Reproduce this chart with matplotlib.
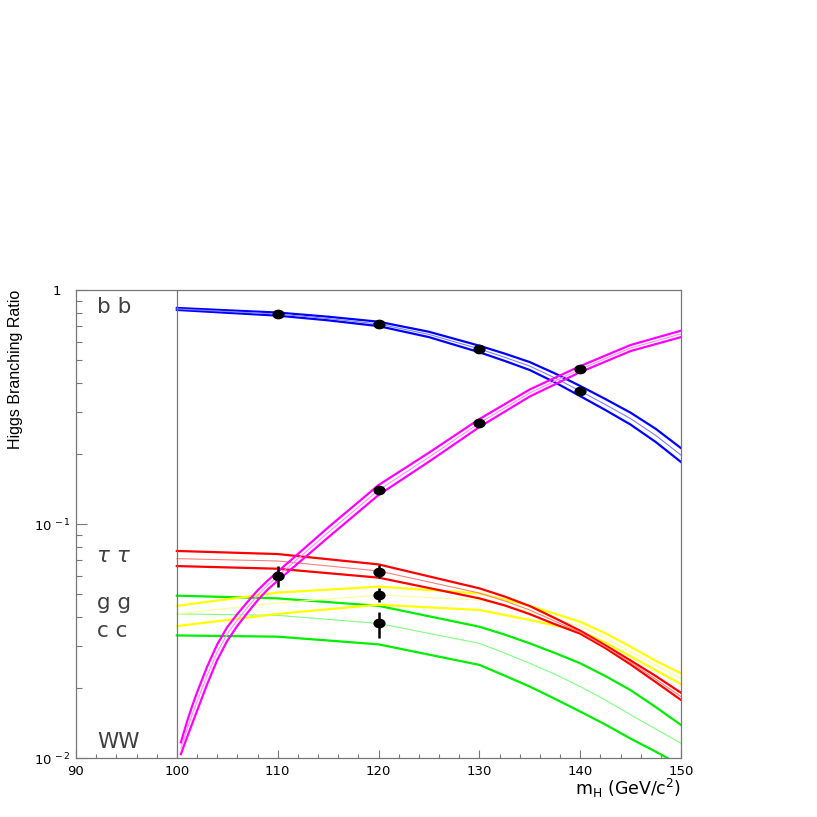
import matplotlib
matplotlib.use('Agg')
import matplotlib.pyplot as plt
from matplotlib.markers import MarkerStyle
from matplotlib.transforms import Affine2D
from matplotlib.ticker import FixedLocator, NullFormatter, MultipleLocator

plt.rcParams['mathtext.fontset'] = 'dejavusans'
plt.rcParams['font.family'] = ['DejaVu Sans']

# ---------------- data ----------------
mass_bb = [100, 105, 110, 115, 120, 125, 130, 132.5, 135, 137.5, 140, 142.5, 145, 147.5, 150]
bb_central = [0.830, 0.809, 0.789, 0.755, 0.716, 0.646, 0.560, 0.516, 0.473, 0.421, 0.370,
              0.324, 0.282, 0.239, 0.197]
bb_upper = [0.838, 0.819, 0.801, 0.769, 0.732, 0.663, 0.578, 0.535, 0.492, 0.440, 0.389,
            0.342, 0.299, 0.255, 0.211]
bb_lower = [0.822, 0.799, 0.777, 0.742, 0.701, 0.629, 0.542, 0.498, 0.455, 0.403, 0.352,
            0.307, 0.266, 0.224, 0.184]

mass_ww = [100.4, 101, 101.5, 102, 103, 104, 105, 106, 107, 108, 109, 110,
           115, 120, 125, 130, 135, 140, 145, 150]
ww_central = [0.0110, 0.0132, 0.0152, 0.0174, 0.0225, 0.0283, 0.0339, 0.0389, 0.0440, 0.0495,
              0.0548, 0.0598, 0.092, 0.1396, 0.193, 0.270, 0.363, 0.459, 0.565, 0.649]
ww_upper = [0.01166, 0.01426, 0.01657, 0.01905, 0.02453, 0.03056, 0.03627, 0.04123, 0.04642,
            0.05198, 0.05727, 0.06249, 0.0966, 0.1466, 0.2017, 0.2808, 0.3757, 0.4728,
            0.5820, 0.670]
ww_lower = [0.01038, 0.01222, 0.01394, 0.01589, 0.02064, 0.02620, 0.03168, 0.03670, 0.04171,
            0.04714, 0.05244, 0.05722, 0.0876, 0.1330, 0.1847, 0.2596, 0.3507, 0.4456,
            0.5485, 0.629]

mass_tau = [100, 110, 120, 130, 132.5, 135, 137.5, 140, 142.5, 145, 147.5, 150]
tau_central = [0.0711, 0.0695, 0.0630, 0.0507, 0.0469, 0.0429, 0.0384, 0.0345, 0.0299, 0.0256,
               0.0217, 0.0183]
tau_upper = [0.0767, 0.0744, 0.0672, 0.0531, 0.0490, 0.0446, 0.0396, 0.0350, 0.0303, 0.0261,
             0.0224, 0.0190]
tau_lower = [0.0661, 0.0644, 0.0590, 0.0481, 0.0449, 0.0412, 0.0373, 0.0340, 0.0295, 0.0251,
             0.0211, 0.0177]

mass_gg = [100, 110, 120, 130, 135, 140, 142.5, 145, 147.5, 150]
gg_central = [0.0413, 0.0460, 0.0497, 0.0473, 0.0422, 0.0366, 0.0325, 0.0285, 0.0249, 0.0219]
gg_upper = [0.0447, 0.0509, 0.0540, 0.0505, 0.0447, 0.0382, 0.0341, 0.0299, 0.0260, 0.0230]
gg_lower = [0.0366, 0.0413, 0.0452, 0.0429, 0.0389, 0.0349, 0.0311, 0.0272, 0.0237, 0.0207]

mass_cc = [100, 110, 120, 130, 132.5, 135, 137.5, 140, 142.5, 145, 147.5, 150]
cc_central = [0.0413, 0.0407, 0.0376, 0.0309, 0.0281, 0.0254, 0.0228, 0.0202, 0.0177, 0.0153,
              0.0133, 0.01156]
cc_upper = [0.0494, 0.0481, 0.0447, 0.0364, 0.0337, 0.0309, 0.0281, 0.0254, 0.0224, 0.0195,
            0.0165, 0.01384]
cc_lower = [0.0334, 0.0330, 0.0306, 0.0250, 0.0225, 0.0202, 0.0179, 0.0158, 0.0139, 0.0121,
            0.01064, 0.0093]

# measured points
bb_pts_mass = [110, 120, 130, 140]
bb_pts = [0.789, 0.716, 0.560, 0.370]
ww_pts_mass = [110, 120, 130, 140]
ww_pts = [0.0601, 0.1396, 0.270, 0.459]
ww_pts_lo = [0.0538, 0.1370, 0.266, 0.452]
ww_pts_hi = [0.0661, 0.1420, 0.274, 0.466]
low_pts_mass = [120, 120, 120]          # tau, gg, cc
low_pts = [0.0626, 0.0497, 0.0376]
low_pts_lo = [0.0586, 0.0466, 0.0325]
low_pts_hi = [0.0668, 0.0531, 0.0422]

channel_labels = ['b b', 'τ τ', 'g g', 'c c', 'WW']
label_y = [0.797, 0.0688, 0.0433, 0.0329, 0.01103]

x_ticks = [90, 100, 110, 120, 130, 140, 150]
y_ticks = [0.01, 0.1, 1]
y_ticklabels = [r'$10^{\,-2}$', r'$10^{\,-1}$', '1  ']

# ---------------- figure ----------------
fig = plt.figure(figsize=(8.17, 8.17), dpi=100)
ax = fig.add_axes([76 / 817, 1 - 758 / 817, 605 / 817, 468 / 817])
ax.set_xlim(90, 150)
ax.set_yscale('log')
ax.set_ylim(0.01, 1)

bands = [
    (mass_cc, cc_central, cc_upper, cc_lower, '#00ee00', '#80ff80'),
    (mass_gg, gg_central, gg_upper, gg_lower, '#ffff00', '#ffff90'),
    (mass_tau, tau_central, tau_upper, tau_lower, '#ff0000', '#ff8080'),
    (mass_bb, bb_central, bb_upper, bb_lower, '#0000ff', '#8080ff'),
    (mass_ww, ww_central, ww_upper, ww_lower, '#ff00ff', '#ff90ff'),
]
for m, c, u, l, col, light in bands:
    ax.plot(m, u, color=col, lw=1.6, solid_joinstyle='round')
    ax.plot(m, l, color=col, lw=1.6, solid_joinstyle='round')
    ax.plot(m, c, color=light, lw=0.8)

ax.axvline(100, color='#777777', lw=0.9)

dot = MarkerStyle('o', transform=Affine2D().scale(1.3, 1.0))

def draw_points(m, v, lo, hi):
    yerr = [[vi - a for vi, a in zip(v, lo)], [b - vi for vi, b in zip(v, hi)]]
    ax.errorbar(m, v, yerr=yerr, fmt='none', ecolor='black', elinewidth=1.8,
                capsize=0, zorder=10)
    ax.plot(m, v, linestyle='none', marker=dot, color='black', ms=6, zorder=11)

ax.plot(bb_pts_mass, bb_pts, linestyle='none', marker=dot, color='black', ms=6, zorder=11)
draw_points(ww_pts_mass, ww_pts, ww_pts_lo, ww_pts_hi)
draw_points(low_pts_mass, low_pts, low_pts_lo, low_pts_hi)

for txt, yv in zip(channel_labels, label_y):
    style = 'italic' if 'τ' in txt else 'normal'
    ax.text(92.1, yv, txt, fontsize=15.5, color='#404040', family='DejaVu Sans',
            style=style, ha='left', va='baseline')

# ticks
ax.xaxis.set_major_locator(FixedLocator(x_ticks))
ax.xaxis.set_minor_locator(MultipleLocator(2))
ax.set_yticks(y_ticks)
ax.set_yticklabels(y_ticklabels)
ax.yaxis.set_minor_locator(FixedLocator([k * 10.0 ** e for e in (-2, -1) for k in range(2, 10)]))
ax.yaxis.set_minor_formatter(NullFormatter())
ax.tick_params(axis='both', which='both', direction='in', color='#777777',
               labelsize=9.5, top=False, right=False)
ax.tick_params(axis='x', which='major', length=6, width=0.8, pad=5)
ax.tick_params(axis='x', which='minor', length=3, width=0.8)
ax.tick_params(axis='y', which='major', length=8, width=0.8, pad=4)
ax.tick_params(axis='y', which='minor', length=4.3, width=0.8)
for s in ax.spines.values():
    s.set_color('#777777')
    s.set_linewidth(0.9)

ax.text(1.0, -0.064, r'm$_{\rm H}$ (GeV/c$^{2}$)', transform=ax.transAxes,
        ha='right', va='center', fontsize=12.5)
fig.text(15.5 / 817, 1 - 290 / 817, 'Higgs Branching Ratio', rotation=90,
         ha='center', va='top', fontsize=11.5, family='Liberation Sans')

fig.savefig('out.png', dpi=100)
